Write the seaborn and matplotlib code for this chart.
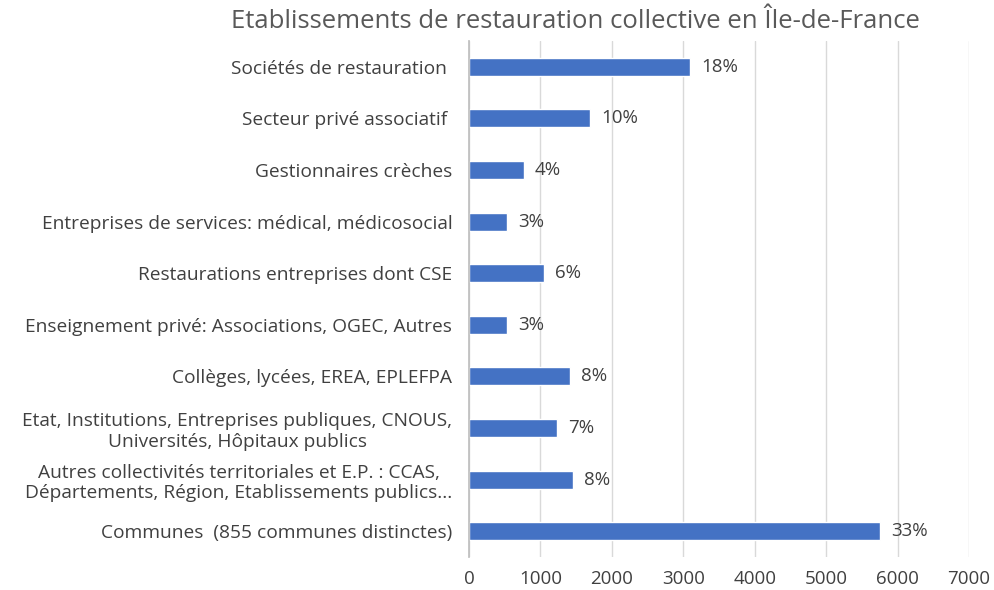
import matplotlib
matplotlib.use("Agg")
import matplotlib.pyplot as plt
import seaborn as sns
import pandas as pd

categories = [
    "Sociétés de restauration ",
    "Secteur privé associatif ",
    "Gestionnaires crèches",
    "Entreprises de services: médical, médicosocial",
    "Restaurations entreprises dont CSE",
    "Enseignement privé: Associations, OGEC, Autres",
    "Collèges, lycées, EREA, EPLEFPA",
    "Etat, Institutions, Entreprises publiques, CNOUS,\nUniversités, Hôpitaux publics",
    "Autres collectivités territoriales et E.P. : CCAS,\nDépartements, Région, Etablissements publics...",
    "Communes  (855 communes distinctes)",
]
values = [3090, 1690, 770, 530, 1050, 530, 1410, 1230, 1450, 5760]
pct_labels = ["18%", "10%", "4%", "3%", "6%", "3%", "8%", "7%", "8%", "33%"]
xticks = [0, 1000, 2000, 3000, 4000, 5000, 6000, 7000]
title = "Etablissements de restauration collective en Île-de-France"

sns.set_theme(style="white")
plt.rcParams["font.family"] = ["Open Sans", "DejaVu Sans"]
txt = "#404040"

df = pd.DataFrame({"cat": categories, "val": values})
fig = plt.figure(figsize=(9.95, 5.9), dpi=100)
ax = fig.add_axes([469/995, 1-557/590, 500/995, (557-41)/590])
sns.barplot(data=df, y="cat", x="val", orient="h", color="#4472C4",
            width=0.35, ax=ax, saturation=1)
ax.set_xlim(0, 7000)
ax.set_xticks(xticks)
ax.set_xticklabels([str(t) for t in xticks], fontsize=13.5, color=txt)
ax.tick_params(axis="y", labelsize=13.8, colors=txt, length=0, pad=12)
ax.tick_params(axis="x", length=0, pad=9)
for lab in ax.get_yticklabels():
    lab.set_multialignment("center")
ax.set_xlabel("")
ax.set_ylabel("")
ax.grid(axis="x", color="#D9D9D9", linewidth=1)
ax.set_axisbelow(True)
for s in ["top", "right", "bottom"]:
    ax.spines[s].set_visible(False)
ax.spines["left"].set_color("#BFBFBF")
ax.bar_label(ax.containers[0], labels=pct_labels, padding=8, fontsize=13.5, color=txt)
fig.text(575/995, 1-21/590, title, ha="center", va="center", fontsize=18.5,
         color="#595959")
fig.savefig("out.png", dpi=100)
